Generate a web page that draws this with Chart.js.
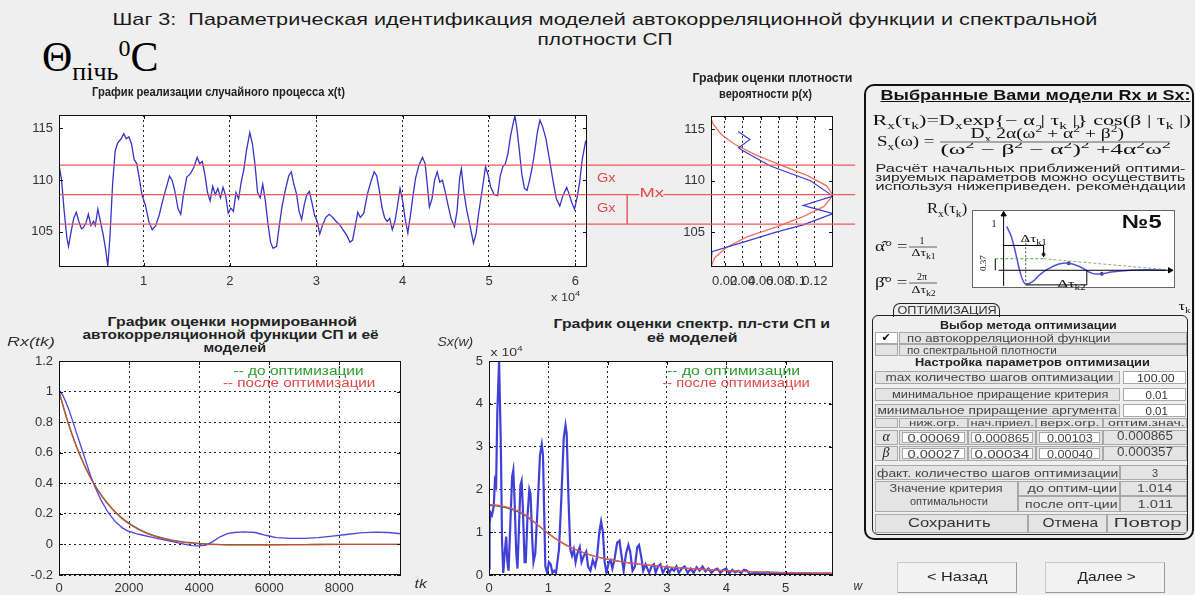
<!DOCTYPE html>
<html>
<head>
<meta charset="utf-8">
<script src="https://cdn.jsdelivr.net/npm/chart.js@4.4.1/dist/chart.umd.min.js"></script>
<style>
  body { margin:0; width:1195px; height:595px; overflow:hidden; position:relative; background:#efefef; font-family:"Liberation Sans", Arial, sans-serif; }
  canvas { position:absolute; }
  .t { position:absolute; white-space:nowrap; }
  .t sub, .t sup { font-size:70%; line-height:0; }
  .c { position:absolute; box-sizing:border-box; border:1px solid #a8a8a8; background:#e4e4e4; }
  .w { background:#fff; }
</style>
</head>
<body>
<canvas id="dens"></canvas>
<canvas id="ts"></canvas>
<canvas id="acf"></canvas>
<canvas id="spec"></canvas>
<div style="position:absolute;left:864px;top:84px;width:330px;height:456px;border:2px solid #111;border-radius:10px;box-sizing:border-box"></div>
<div style="position:absolute;left:893px;top:303px;width:107px;height:14px;border:1px solid #222;border-bottom:none;border-radius:7px 7px 0 0;box-sizing:border-box;background:#efefef"></div>
<div style="position:absolute;left:872px;top:315px;width:316px;height:220px;border:1.5px solid #222;border-radius:6px;box-sizing:border-box"></div>
<canvas id="sch"></canvas>
<script>
// ---- time series x(t) ----
var tsX = [200,500,800,1100,1300,1600,1900,2200,2500,2800,
  3000,3300,3600,3900,4200,4400,4700,5000,5300,5600,
  5850,6100,6400,6700,7000,7400,7700,8000,8300,8600,
  8900,9200,9500,9800,10200,10600,11000,11400,11800,12200,
  12600,13000,13300,13600,14000,14300,14600,15000,15400,15800,
  16200,16500,16800,17100,17400,17700,18000,18300,18600,18900,
  19200,19500,19800,20100,20400,20700,21000,21300,21600,21900,
  22300,22600,22900,23200,23500,23800,24100,24400,24700,25000,
  25400,25700,26000,26400,26800,27100,27400,27700,28000,28300,
  28600,28900,29200,29500,29800,30100,30400,30700,31100,31500,
  31900,32300,32700,33100,33500,33900,34200,34500,34800,35100,
  35500,35900,36300,36700,37000,37300,37600,37900,38200,38500,
  38800,39100,39400,39700,40000,40300,40600,40900,41200,41500,
  41900,42300,42600,42800,43100,43400,43700,44000,44300,44600,
  44900,45200,45600,46000,46300,46600,46800,47100,47400,47800,
  48200,48500,48800,49200,49600,49900,50200,50600,51000,51300,
  51600,51900,52200,52500,52800,53000,53200,53500,53800,54100,
  54400,54700,55000,55300,55600,55900,56200,56600,57000,57400,
  57800,58200,58600,59000,59300,59600,59900,60200,60500,60800,
  61200];
var tsY = [111.5,110.0,107.0,104.5,103.6,105.0,106.3,106.9,106.0,105.3,
  105.4,105.8,106.7,105.6,106.0,105.6,107.2,106.0,104.8,103.3,
  101.7,104.5,109.5,112.8,113.6,114.0,114.5,114.0,114.2,113.5,
  112.0,111.6,110.2,108.6,107.6,106.0,105.2,105.6,106.6,108.0,
  109.2,110.4,110.0,109.0,107.2,106.7,108.5,110.3,110.6,111.2,
  112.2,111.6,111.8,110.5,108.8,108.0,109.4,108.6,109.2,108.3,
  109.3,108.5,106.8,107.3,107.0,108.8,108.2,109.8,111.0,112.8,
  114.6,113.5,111.5,108.8,108.3,109.6,108.0,105.8,104.0,103.4,
  103.6,105.5,107.3,109.0,110.4,110.8,109.6,108.7,107.0,106.2,
  107.6,108.6,108.9,107.8,106.6,106.0,104.8,105.6,106.4,106.7,
  106.4,106.0,105.7,105.2,104.7,104.0,104.2,105.5,106.9,106.4,
  106.8,108.6,109.8,110.8,110.4,109.0,107.4,106.4,106.0,106.3,
  105.2,106.0,107.5,109.2,108.0,106.2,104.9,106.6,108.5,110.2,
  111.5,112.2,111.6,110.0,107.4,108.2,110.0,110.8,109.8,110.0,
  109.0,107.8,106.3,105.5,107.0,110.2,111.1,108.8,107.2,105.6,
  103.9,104.8,106.8,109.0,111.3,110.5,109.3,108.6,108.5,110.4,
  111.3,111.6,112.6,114.3,115.5,116.2,115.2,113.0,110.6,109.2,
  109.0,110.0,111.2,112.8,114.6,115.8,115.2,114.0,112.0,110.0,
  108.2,107.5,108.6,109.3,108.6,107.8,107.2,108.3,109.8,112.0,
  113.8];
var MX = 108.6, GX = 2.85;
var tsTicksX = [10000,20000,30000,40000,50000,60000];
var tsTickLabelsX = ['1','2','3','4','5','6'];
var tsTicksY = [105,110,115];
var tsTickLabelsY = ['105','110','115'];

// ---- density p(x) ----
var densBlueP = [0.035,0.048,0.0355,0.039,0.07,0.115,0.14,0.107,0.14,0.107,0.077,0.04,0.006,0.005];
var densBlueX = [114.8,114.0,113.2,113.0,111.45,110.0,108.5,107.6,106.8,105.7,105.0,104.0,103.1,101.6];
var densRedP = [0.004,0.0075,0.0164,0.032,0.055,0.083,0.112,0.133,0.14,0.130,0.107,0.0775,0.044,0.022,0.009,0.005];
var densRedX = [116.3,115.5,114.5,113.5,112.5,111.5,110.5,109.5,108.6,107.5,106.5,105.5,104.5,103.5,102.5,101.6];
var densTicksX = [0.02,0.04,0.06,0.08,0.1,0.12];
var densTickLabelsX = ['0.02','0.04','0.06','0.08','0.1','0.12'];

// ---- autocorrelation ----
var acfLag = [0,100,200,300,400,500,600,700,800,900,1000,1100,1200,1300,1400,1500,1600,1700,1800,1900,
  2000,2200,2400,2600,2800,3000,3200,3400,3600,3800,4000,4200,4400,4600,4800,5000,5300,5600,5900,6200,
  6600,7000,7400,7800,8200,8600,9000,9400,9760];
var acfEst = [1.0,0.98,0.93,0.87,0.80,0.73,0.66,0.59,0.52,0.45,0.39,0.34,0.29,0.25,0.21,0.18,0.15,0.13,0.11,0.095,
  0.085,0.07,0.06,0.05,0.04,0.03,0.02,0.01,0.0,-0.008,-0.01,-0.005,0.02,0.05,0.07,0.078,0.082,0.078,0.06,0.045,
  0.04,0.04,0.045,0.055,0.065,0.075,0.08,0.078,0.07];
var acfLagM = [0,250,500,750,1000,1250,1500,1750,2000,2500,3000,3500,4000,4500,5000,6000,7000,8000,9760];
var acfBefore = [1,0.804,0.640,0.507,0.397,0.309,0.239,0.182,0.138,0.075,0.039,0.018,0.007,0.001,-0.002,-0.002,-0.001,0,0];
var acfAfter = [1,0.803,0.638,0.504,0.394,0.306,0.235,0.178,0.134,0.072,0.036,0.015,0.004,-0.001,-0.003,-0.002,-0.001,0,0];
var acfTicksX = [0,2000,4000,6000,8000];
var acfTickLabelsX = ['0','2000','4000','6000','8000'];
var acfTicksY = [-0.2,0,0.2,0.4,0.6,0.8,1,1.2];
var acfTickLabelsY = ['-0.2','0','0.2','0.4','0.6','0.8','1','1.2'];

// ---- spectral density (x 10^4) ----
var specW = [0.00,0.01,0.03,0.05,0.08,0.10,0.12,0.14,0.17,0.20,
  0.22,0.24,0.27,0.29,0.31,0.33,0.36,0.39,0.41,0.43,
  0.46,0.48,0.50,0.53,0.55,0.57,0.60,0.62,0.65,0.68,
  0.70,0.73,0.75,0.78,0.82,0.86,0.89,0.91,0.93,0.95,
  0.98,1.01,1.04,1.07,1.10,1.13,1.18,1.22,1.26,1.29,
  1.31,1.34,1.37,1.40,1.43,1.46,1.49,1.53,1.56,1.60,
  1.64,1.67,1.71,1.75,1.79,1.82,1.86,1.89,1.92,1.95,
  1.98,2.02,2.05,2.08,2.12,2.16,2.20,2.24,2.27,2.31,
  2.35,2.38,2.42,2.46,2.50,2.53,2.57,2.60,2.64,2.67,
  2.70,2.74,2.78,2.81,2.85,2.89,2.93,2.97,3.00,3.04,
  3.08,3.12,3.16,3.20,3.25,3.30,3.35,3.40,3.45,3.50,
  3.55,3.60,3.65,3.70,3.75,3.80,3.85,3.90,3.95,4.00,
  4.05,4.10,4.15,4.20,4.25,4.30,4.35,4.40,4.50,4.60,
  4.70,4.80,4.90,5.00,5.10,5.20,5.30,5.40,5.50,5.60,
  5.70,5.80];
var specEst = [0.15,1.2,1.45,1.4,1.6,2.2,2.1,3.8,5.0,3.0,
  0.8,0.05,0.6,0.9,0.3,0.1,1.2,2.3,2.45,1.8,
  0.5,0.15,0.9,2.1,2.2,1.6,0.3,0.3,1.4,2.0,
  1.9,0.8,0.3,0.5,1.6,2.8,3.05,2.8,1.5,0.2,
  0.05,0.3,0.25,0.05,0.1,0.05,0.6,1.8,3.2,3.5,
  3.3,1.8,0.6,0.45,0.6,0.3,0.5,0.65,0.3,0.45,
  0.55,0.2,0.1,0.35,0.2,0.4,1.0,1.25,1.0,0.3,
  0.05,0.3,0.35,0.15,0.4,0.75,0.8,0.4,0.1,0.5,
  0.7,0.55,0.1,0.2,0.65,0.7,0.4,0.1,0.25,0.15,
  0.05,0.2,0.25,0.05,0.2,0.25,0.05,0.15,0.2,0.05,
  0.15,0.1,0.2,0.05,0.15,0.2,0.05,0.15,0.05,0.18,
  0.1,0.2,0.08,0.15,0.05,0.12,0.15,0.05,0.12,0.15,
  0.04,0.12,0.06,0.1,0.04,0.12,0.1,0.02,0.05,0.03,
  0.06,0.02,0.04,0.03,0.05,0.02,0.04,0.02,0.03,0.02,
  0.03,0.02];
var specWM = [0,0.2,0.4,0.6,0.8,1.0,1.2,1.4,1.6,1.8,2.0,2.2,2.5,3.0,3.5,4.0,4.5,5.0,5.5,5.8];
var specBefore = [1.63,1.6,1.53,1.40,1.19,0.97,0.78,0.63,0.52,0.43,0.37,0.32,0.26,0.19,0.14,0.10,0.075,0.055,0.045,0.04];
var specAfter = [1.65,1.62,1.55,1.42,1.2,0.97,0.78,0.63,0.52,0.43,0.37,0.32,0.26,0.19,0.14,0.10,0.075,0.055,0.045,0.04];
var specTicksX = [0,1,2,3,4,5];
var specTicksY = [0,1,2,3,4,5];
var specTickLabels = ['0','1','2','3','4','5'];

// ---- schematic Rx(tk) №5 ----
var schT = [0.19,0.46,0.74,0.96,1.15,1.33,1.72,2.18,2.67,3.32,3.91,4.58,5.33,5.9,6.47,7.62,8.6,9.7];
var schR = [0.99,0.76,0.36,0,-0.22,-0.31,-0.26,-0.1,0.03,0.14,0.16,0.08,-0.07,-0.08,-0.04,0,0.01,0];

var FONT = '"Liberation Sans", Arial, sans-serif';

function pts(xs, ys) { return xs.map(function (x, i) { return { x: x, y: ys[i] }; }); }

var framePlugin = {
  id: 'frame',
  beforeDraw: function (chart) {
    var a = chart.chartArea, ctx = chart.ctx;
    ctx.save(); ctx.fillStyle = '#fff';
    ctx.fillRect(a.left, a.top, a.right - a.left, a.bottom - a.top);
    ctx.restore();
  },
  afterDatasetsDraw: function (chart, args, opts) {
    var a = chart.chartArea, ctx = chart.ctx;
    ctx.save();
    ctx.strokeStyle = opts.color || '#111'; ctx.lineWidth = 1;
    ctx.strokeRect(Math.round(a.left) + 0.5, Math.round(a.top) + 0.5, Math.round(a.right - a.left) - 1, Math.round(a.bottom - a.top) - 1);
    if (opts.ticks) {
      ctx.beginPath();
      chart.scales.x.ticks.forEach(function (t) {
        var p = Math.round(chart.scales.x.getPixelForValue(t.value)) + 0.5;
        ctx.moveTo(p, a.bottom); ctx.lineTo(p, a.bottom - 4);
        ctx.moveTo(p, a.top); ctx.lineTo(p, a.top + 4);
      });
      chart.scales.y.ticks.forEach(function (t) {
        var p = Math.round(chart.scales.y.getPixelForValue(t.value)) + 0.5;
        ctx.moveTo(a.left, p); ctx.lineTo(a.left + 4, p);
        ctx.moveTo(a.right, p); ctx.lineTo(a.right - 4, p);
      });
      ctx.stroke();
    }
    ctx.restore();
  }
};

function axis(min, max, ticks, labels, grid, isX, pad) {
  return {
    type: 'linear', min: min, max: max,
    afterBuildTicks: function (s) { s.ticks = ticks.map(function (v) { return { value: v }; }); },
    afterFit: function (s) { if (isX) s.height = 35; else s.width = 60; },
    ticks: { autoSkip: false, maxRotation: 0, minRotation: 0, padding: pad, color: '#333',
      font: { family: FONT, size: 13 },
      callback: function (v, i) { return labels[i]; } },
    grid: { display: grid, drawTicks: false, color: '#222', lineWidth: 1 },
    border: { display: false, dash: [2, 3] }
  };
}

function mkChart(id, L, T, R, B, padR, datasets, xAxis, yAxis) {
  var c = document.getElementById(id);
  c.width = (R - L) + 60 + padR; c.height = (B - T) + 15 + 35;
  c.style.left = (L - 60) + 'px'; c.style.top = (T - 15) + 'px';
  return new Chart(c.getContext('2d'), {
    type: 'line',
    data: { datasets: datasets },
    options: {
      responsive: false, animation: false, events: [], devicePixelRatio: 1,
      layout: { padding: { top: 15, right: padR, left: 0, bottom: 0 } },
      elements: { point: { radius: 0 }, line: { tension: 0 } },
      plugins: { legend: { display: false }, tooltip: { enabled: false }, frame: { ticks: true } },
      scales: { x: xAxis, y: yAxis }
    },
    plugins: [framePlugin]
  });
}

// density (drawn under the time-series canvas so the red lines pass over it)
mkChart('dens', 711, 116, 833, 267, 20, [
  { data: pts(densRedP, densRedX), borderColor: '#f07262', borderWidth: 1.3, order: 1 },
  { data: pts(densBlueP, densBlueX), borderColor: '#3b3bd0', borderWidth: 1.2, order: 0 }
], axis(0.005, 0.14, densTicksX, densTickLabelsX, true, true, 7),
   axis(101.6, 116.3, tsTicksY, tsTickLabelsY, false, false, 6));

// time series; red Mx / Mx±Gx lines run on across the gap to the density plot
var lineEnd = 92400, arrowX = 66000;
var redLine = { borderColor: '#ec5a5a', borderWidth: 1.3, clip: false, order: 0 };
mkChart('ts', 59, 115, 587, 267, 280, [
  { data: pts(tsX, tsY), borderColor: '#3535c8', borderWidth: 1.3, order: 1 },
  Object.assign({ data: [{ x: 200, y: MX + GX }, { x: lineEnd, y: MX + GX }] }, redLine),
  Object.assign({ data: [{ x: 200, y: MX }, { x: lineEnd, y: MX }] }, redLine),
  Object.assign({ data: [{ x: 200, y: MX - GX }, { x: lineEnd, y: MX - GX }] }, redLine),
  { data: [{ x: arrowX, y: MX - GX }, { x: arrowX, y: MX }, { x: arrowX, y: MX + GX }], borderColor: '#e03c3c', borderWidth: 1.2, clip: false,
    pointStyle: ['triangle', 'circle', 'triangle'], pointRotation: [180, 0, 0], pointRadius: [3, 2, 3],
    pointBackgroundColor: '#e03c3c', pointBorderColor: '#e03c3c', order: 0 }
], axis(200, 61350, tsTicksX, tsTickLabelsX, true, true, 7),
   axis(101.6, 116.3, tsTicksY, tsTickLabelsY, false, false, 6));

mkChart('acf', 59, 361, 401, 575, 20, [
  { data: pts(acfLag, acfEst), borderColor: '#4848dc', borderWidth: 1.3, order: 1 },
  { data: pts(acfLagM, acfBefore), borderColor: '#2e8b2e', borderWidth: 1.3, tension: 0.4, cubicInterpolationMode: 'monotone', order: 2 },
  { data: pts(acfLagM, acfAfter), borderColor: 'rgba(232,60,60,0.8)', borderWidth: 1.3, tension: 0.4, cubicInterpolationMode: 'monotone', order: 0 }
], axis(0, 9760, acfTicksX, acfTickLabelsX, true, true, 6),
   axis(-0.2, 1.2, acfTicksY, acfTickLabelsY, true, false, 6));

mkChart('spec', 489, 361, 833, 575, 20, [
  { data: pts(specW, specEst), borderColor: '#4040d8', borderWidth: 2.2, order: 1 },
  { data: pts(specWM, specBefore), borderColor: '#2e8b2e', borderWidth: 1.3, tension: 0.4, cubicInterpolationMode: 'monotone', order: 2 },
  { data: pts(specWM, specAfter), borderColor: '#e85a5a', borderWidth: 1.3, tension: 0.4, cubicInterpolationMode: 'monotone', order: 0 }
], axis(0, 5.8, specTicksX, specTickLabels, true, true, 6),
   axis(0, 5, specTicksY, specTickLabels, true, false, 6));

// schematic chart
(function () {
  var c = document.getElementById('sch');
  c.width = 213; c.height = 88; c.style.left = '967px'; c.style.top = '205px';
  var thin = function (d, col, dash) { return { data: d, borderColor: col, borderWidth: 1, borderDash: dash || [], pointRadius: 0 }; };
  new Chart(c.getContext('2d'), {
    type: 'line',
    data: { datasets: [
      thin([{ x: 0, y: -0.35 }, { x: 0, y: 1.26 }], '#000'),
      thin([{ x: -0.3, y: 0 }, { x: 10.0, y: 0 }], '#000'),
      { data: [{ x: 0, y: 1.26 }, { x: 10.0, y: 0 }], showLine: false, pointStyle: 'triangle', pointRotation: [0, 90], pointRadius: 3, pointBackgroundColor: '#000', pointBorderColor: '#000' },
      thin([{ x: 1.33, y: 0.7 }, { x: 1.33, y: -0.31 }], '#444', [2, 2]),
      thin([{ x: -0.5, y: 0.26 }, { x: 2.4, y: 0.26 }], '#4a4', [3, 2]),
      thin([{ x: 2.4, y: 0.26 }, { x: 9.9, y: 0.01 }], '#8a8', [3, 2]),
      thin([{ x: -0.5, y: 0 }, { x: -0.5, y: 0.26 }], '#000'),
      thin([{ x: 0, y: 0.56 }, { x: 2.4, y: 0.56 }, { x: 2.4, y: 0.3 }], '#000'),
      thin([{ x: 1.33, y: -0.33 }, { x: 5.0, y: -0.33 }, { x: 5.0, y: 0 }], '#000'),
      { data: pts(schT, schR), borderColor: '#5050e0', borderWidth: 1.5, tension: 0.4, pointRadius: 0 },
      { data: [{ x: 2.4, y: 0.36 }, { x: 3.91, y: 0.16 }, { x: 5.9, y: -0.08 }], showLine: false, pointRadius: 1.5, pointBackgroundColor: '#333', pointBorderColor: '#333' }
    ] },
    options: {
      responsive: false, animation: false, events: [], devicePixelRatio: 1,
      layout: { padding: 0 },
      plugins: { legend: { display: false }, tooltip: { enabled: false }, frame: { ticks: false, color: '#666' } },
      scales: { x: { type: 'linear', min: -1.9, max: 10.3, display: false }, y: { type: 'linear', min: -0.4, max: 1.36, display: false } }
    },
    plugins: [framePlugin]
  });
})();

// ---- texts ----
function txt(html, cx, cy, w, font, color, left, bg) {
  var d = document.createElement('div');
  d.className = 't';
  d.style.font = font;
  d.style.lineHeight = '1.15';
  d.style.color = color || '#222';
  if (bg) d.style.background = bg;
  d.innerHTML = html;
  document.body.appendChild(d);
  var ow = d.offsetWidth, oh = d.offsetHeight;
  var k = w ? w / ow : 1;
  d.style.left = (left ? cx : cx - ow / 2) + 'px';
  d.style.top = (cy - oh / 2) + 'px';
  d.style.transformOrigin = left ? '0 50%' : '50% 50%';
  d.style.transform = 'scaleX(' + k + ')';
  return d;
}
function box(x, y, w, h, cls) {
  var d = document.createElement('div');
  d.className = 'c ' + (cls || '');
  d.style.left = x + 'px'; d.style.top = y + 'px'; d.style.width = w + 'px'; d.style.height = h + 'px';
  document.body.appendChild(d);
}
var B = 'bold 12px ' + FONT, N = '11px ' + FONT, S = '14px "Liberation Serif", serif';
var GREEN = '#2e9a2e', RED = '#e04848';

txt('Шаг 3:&nbsp; Параметрическая идентификация моделей автокорреляционной функции и спектральной', 605, 20, 985, '17px ' + FONT, '#1a1a1a');
txt('плотности СП', 605, 40, 135, '17px ' + FONT, '#1a1a1a');
txt('Θ<span style="font-size:26px;position:relative;top:9px">пічь</span><span style="font-size:24px;position:relative;top:-15px">0</span>C', 42, 57, 116, '42px "Liberation Serif", serif', '#000', true);

txt('График реализации случайного процесса x(t)', 218, 93, 253, B, '#222');
txt('График оценки плотности', 772, 79, 160, B, '#222');
txt('вероятности p(x)', 765, 95, 93, B, '#222');
txt('x 10<sup style="font-size:8px">4</sup>', 565, 297, 29, N, '#333');

txt('Gx', 606, 178, 19, '13px ' + FONT, RED);
txt('Gx', 606, 208, 19, '13px ' + FONT, RED);
txt('Mx', 651, 193, 24, '13px ' + FONT, RED, false, '#efefef');

txt('График оценки нормированной', 232, 323, 250, B, '#222');
txt('автокорреляционной функции СП и её', 230, 336, 296, B, '#222');
txt('моделей', 235, 349, 63, B, '#222');
txt('Rx(tk)', 31, 343, 48, 'italic 12px ' + FONT, '#333');
txt('tk', 420, 585, 12, 'italic 12px ' + FONT, '#333');
txt('-- до оптимизации', 298, 372, 130, '12px ' + FONT, GREEN);
txt('-- после оптимизации', 299, 384, 152, '12px ' + FONT, RED);

txt('График оценки спектр. пл-сти СП и', 692, 325, 277, B, '#222');
txt('её моделей', 692, 339, 90, B, '#222');
txt('Sx(w)', 455, 343, 36, 'italic 12px ' + FONT, '#333');
txt('x 10<sup style="font-size:8px">4</sup>', 506, 352, 32, N, '#333');
txt('w', 858, 587, 9, 'italic 12px ' + FONT, '#333');
txt('-- до оптимизации', 733, 372, 133, '12px ' + FONT, GREEN);
txt('-- после оптимизации', 736, 384, 147, '12px ' + FONT, RED);

// right panel
txt('<u>Выбранные Вами модели Rx и Sx:</u>', 1035, 95, 310, 'bold 14px ' + FONT, '#111');
txt('R<sub>x</sub>(τ<sub>k</sub>)=D<sub>x</sub>exp{− α | τ<sub>k</sub> |} cos(β | τ<sub>k</sub> |)', 1031, 121, 318, S, '#111');
txt('S<sub>x</sub>(ω) =', 877, 142, 58, S, '#111', true);
txt('D<sub>x</sub> 2α(ω<sup>2</sup> + α<sup>2</sup> + β<sup>2</sup>)', 1047, 134, 153, S, '#111');
txt('(ω<sup>2</sup> − β<sup>2</sup> − α<sup>2</sup>)<sup>2</sup> +4α<sup>2</sup>ω<sup>2</sup>', 1055, 150, 230, S, '#111');
box(940, 141, 230, 1, '');
txt('Расчёт начальных приближений оптими-', 1030, 168, 310, '11px ' + FONT, '#222');
txt('зируемых параметров можно осуществить', 1030, 177, 310, '11px ' + FONT, '#222');
txt('используя нижеприведен. рекомендации', 1030, 186, 310, '11px ' + FONT, '#222');

txt('R<sub>x</sub>(τ<sub>k</sub>)', 947, 209, 40, '14px "Liberation Serif", serif', '#111');
txt('α̂° =', 875, 247, 32, '14px "Liberation Serif", serif', '#111', true);
txt('1', 922, 241, null, '10px "Liberation Serif", serif', '#111');
box(909, 246, 28, 1, '');
txt('Δτ<sub>k1</sub>', 923, 252, 24, '11px "Liberation Serif", serif', '#111');
txt('β̂° =', 875, 283, 32, '14px "Liberation Serif", serif', '#111', true);
txt('2π', 922, 277, null, '10px "Liberation Serif", serif', '#111');
box(909, 282, 28, 1, '');
txt('Δτ<sub>k2</sub>', 923, 289, 24, '11px "Liberation Serif", serif', '#111');
txt('№5', 1142, 222, 40, 'bold 19px ' + FONT, '#111');
txt('1', 994, 224, null, '10px "Liberation Serif", serif', '#111');
txt('Δτ<sub>k1</sub>', 1033, 238, 26, '11px "Liberation Serif", serif', '#111');
txt('Δτ<sub>k2</sub>', 1071, 283, 28, '11px "Liberation Serif", serif', '#111');
txt('0.37', 983, 263, null, '9px "Liberation Serif", serif', '#111').style.transform = 'rotate(-90deg)';
txt('τ<sub>k</sub>', 1184, 307, 12, '12px "Liberation Serif", serif', '#111');

txt('ОПТИМИЗАЦИЯ', 947, 310, 99, N, '#333');

// optimisation table
txt('Выбор метода оптимизации', 1028, 325, 177, 'bold 11px ' + FONT, '#222');
box(875, 332, 23, 12, 'w'); box(899, 332, 288, 12);
box(875, 344, 23, 12); box(899, 344, 288, 12);
txt('✔', 886, 338, null, 'bold 11px "DejaVu Sans"', '#111');
txt('по автокорреляционной функции', 907, 338, 203, N, '#444', true);
txt('по спектральной плотности', 907, 350, 150, N, '#444', true);
txt('Настройка параметров оптимизации', 1032, 362, 235, 'bold 11px ' + FONT, '#222');

box(875, 371, 245, 13); box(1123, 371, 63, 13, 'w');
box(875, 388, 245, 13); box(1123, 388, 63, 13, 'w');
box(875, 404, 245, 13); box(1123, 404, 63, 13, 'w');
txt('max количество шагов оптимизации', 999, 377, 228, N, '#444');
txt('100.00', 1156, 378, 38, N, '#333');
txt('минимальное приращение критерия', 1000, 394, 216, N, '#444');
txt('0.01', 1156, 395, 22, N, '#333');
txt('минимальное приращение аргумента', 997, 410, 239, N, '#444');
txt('0.01', 1156, 411, 22, N, '#333');

box(875, 418, 23, 10); box(899, 418, 69, 10); box(968, 418, 68, 10); box(1036, 418, 67, 10); box(1103, 418, 84, 10);
txt('ниж.огр.', 934, 423, 50, '9px ' + FONT, '#444');
txt('нач.приел.', 1002, 423, 63, '9px ' + FONT, '#444');
txt('верх.огр.', 1069, 423, 59, '9px ' + FONT, '#444');
txt('оптим.знач.', 1146, 423, 77, '9px ' + FONT, '#444');

box(875, 430, 23, 15); box(899, 430, 69, 15); box(968, 430, 68, 15);
box(1036, 430, 67, 15); box(1103, 430, 84, 15);
box(902, 432, 63, 11, 'w'); box(971, 432, 62, 11, 'w'); box(1039, 432, 61, 11, 'w');
box(875, 446, 23, 15); box(899, 446, 69, 15); box(968, 446, 68, 15);
box(1036, 446, 67, 15); box(1103, 446, 84, 15);
box(902, 448, 63, 11, 'w'); box(971, 448, 62, 11, 'w'); box(1039, 448, 61, 11, 'w');
txt('α', 886, 437, null, 'italic 14px "Liberation Serif", serif', '#222');
txt('β', 886, 453, null, 'italic 14px "Liberation Serif", serif', '#222');
txt('0.00069', 934, 438, 53, N, '#444');
txt('0.000865', 1002, 438, 55, N, '#444');
txt('0.00103', 1070, 438, 46, N, '#444');
txt('0.000865', 1145, 437, 56, '12px ' + FONT, '#444');
txt('0.00027', 934, 454, 53, N, '#444');
txt('0.00034', 1002, 454, 55, N, '#444');
txt('0.00040', 1070, 454, 46, N, '#444');
txt('0.000357', 1145, 453, 56, '12px ' + FONT, '#444');

box(875, 465, 245, 15); box(1120, 465, 67, 15);
txt('факт. количество шагов оптимизации', 997, 473, 241, N, '#444');
txt('3', 1155, 473, null, N, '#444');
box(875, 481, 143, 31); box(1018, 481, 102, 15); box(1018, 496, 102, 16);
box(1120, 481, 67, 15); box(1120, 496, 67, 16);
txt('Значение критерия', 946, 488, 113, N, '#444');
txt('оптимальности', 949, 501, 78, N, '#444');
txt('до оптим-ции', 1072, 488, 90, N, '#444');
txt('после опт-ции', 1071, 504, 93, N, '#444');
txt('1.014', 1155, 488, 36, N, '#444');
txt('1.011', 1155, 504, 36, N, '#444');

box(875, 514, 153, 19); box(1028, 514, 79, 19); box(1107, 514, 80, 19);
txt('Сохранить', 949, 523, 83, '13px ' + FONT, '#333');
txt('Отмена', 1070, 523, 56, '13px ' + FONT, '#333');
txt('Повтор', 1147, 523, 67, '13px ' + FONT, '#333');

var b1 = document.createElement('div');
b1.style.cssText = 'position:absolute;left:897px;top:562px;width:120px;height:31px;box-sizing:border-box;background:#f2f2f2;border:1px solid #c8c8c8;border-right-color:#999;border-bottom-color:#999';
document.body.appendChild(b1);
var b2 = b1.cloneNode(); b2.style.left = '1045px'; document.body.appendChild(b2);
txt('&lt; Назад', 957, 577, 60, '13px ' + FONT, '#222');
txt('Далее &gt;', 1106, 577, 58, '13px ' + FONT, '#222');
</script>
</body>
</html>
